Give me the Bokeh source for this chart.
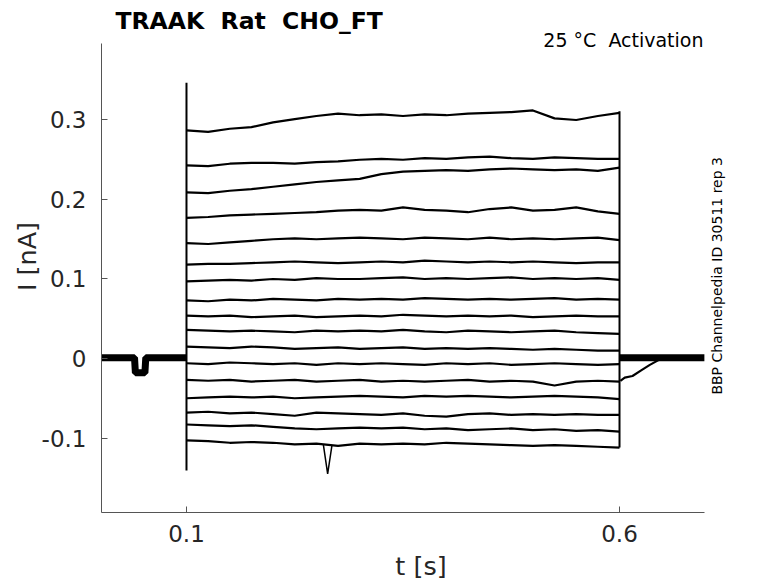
from bokeh.plotting import figure
from bokeh.models import Range1d, FixedTicker, CustomJSTickFormatter, Label, ColumnDataSource
from bokeh.embed import file_html
from bokeh.resources import INLINE

# ---- data ----
t_knots = [0.100, 0.125, 0.150, 0.175, 0.200, 0.225, 0.250, 0.275, 0.300, 0.325, 0.350,
           0.375, 0.400, 0.425, 0.450, 0.475, 0.500, 0.525, 0.550, 0.575, 0.600]

trace01 = [0.287, 0.285, 0.289, 0.291, 0.297, 0.301, 0.305, 0.308, 0.306, 0.307, 0.305, 0.307, 0.306, 0.308, 0.309, 0.310, 0.312, 0.302, 0.300, 0.305, 0.309]
trace02 = [0.243, 0.242, 0.245, 0.246, 0.246, 0.245, 0.247, 0.248, 0.250, 0.251, 0.250, 0.252, 0.251, 0.253, 0.254, 0.252, 0.251, 0.253, 0.252, 0.251, 0.251]
trace03 = [0.209, 0.208, 0.211, 0.213, 0.216, 0.219, 0.222, 0.224, 0.226, 0.232, 0.235, 0.236, 0.237, 0.236, 0.238, 0.239, 0.238, 0.237, 0.238, 0.236, 0.240]
trace04 = [0.177, 0.178, 0.180, 0.181, 0.182, 0.183, 0.184, 0.186, 0.187, 0.186, 0.190, 0.187, 0.186, 0.184, 0.188, 0.190, 0.186, 0.187, 0.190, 0.185, 0.182]
trace05 = [0.145, 0.144, 0.146, 0.148, 0.150, 0.151, 0.150, 0.151, 0.152, 0.151, 0.150, 0.152, 0.151, 0.150, 0.152, 0.150, 0.151, 0.150, 0.151, 0.152, 0.149]
trace06 = [0.118, 0.119, 0.119, 0.120, 0.121, 0.122, 0.121, 0.120, 0.121, 0.122, 0.121, 0.123, 0.122, 0.121, 0.122, 0.121, 0.122, 0.121, 0.120, 0.121, 0.121]
trace07 = [0.097, 0.098, 0.099, 0.098, 0.100, 0.099, 0.101, 0.100, 0.100, 0.101, 0.102, 0.100, 0.101, 0.100, 0.101, 0.102, 0.100, 0.101, 0.100, 0.101, 0.099]
trace08 = [0.073, 0.072, 0.074, 0.073, 0.075, 0.074, 0.073, 0.075, 0.074, 0.075, 0.074, 0.076, 0.075, 0.074, 0.075, 0.074, 0.075, 0.076, 0.074, 0.075, 0.074]
trace09 = [0.054, 0.053, 0.054, 0.052, 0.053, 0.054, 0.052, 0.053, 0.054, 0.053, 0.055, 0.054, 0.053, 0.054, 0.053, 0.054, 0.052, 0.053, 0.054, 0.053, 0.053]
trace10 = [0.036, 0.035, 0.034, 0.035, 0.034, 0.033, 0.035, 0.034, 0.035, 0.034, 0.036, 0.034, 0.033, 0.035, 0.034, 0.033, 0.034, 0.035, 0.033, 0.032, 0.031]
trace11 = [0.015, 0.014, 0.013, 0.015, 0.014, 0.012, 0.013, 0.014, 0.012, 0.013, 0.014, 0.012, 0.013, 0.012, 0.013, 0.012, 0.011, 0.012, 0.011, 0.010, 0.010]
trace12 = [-0.006, -0.007, -0.005, -0.006, -0.007, -0.006, -0.008, -0.006, -0.007, -0.006, -0.007, -0.008, -0.006, -0.007, -0.006, -0.008, -0.007, -0.006, -0.007, -0.008, -0.007]
trace13 = [-0.027, -0.028, -0.027, -0.029, -0.028, -0.027, -0.029, -0.028, -0.027, -0.029, -0.028, -0.029, -0.028, -0.027, -0.029, -0.028, -0.029, -0.034, -0.029, -0.028, -0.029]
trace14 = [-0.050, -0.049, -0.048, -0.049, -0.048, -0.050, -0.049, -0.048, -0.047, -0.048, -0.049, -0.047, -0.048, -0.047, -0.048, -0.049, -0.048, -0.047, -0.048, -0.049, -0.051]
trace15 = [-0.068, -0.067, -0.069, -0.068, -0.070, -0.072, -0.068, -0.069, -0.070, -0.071, -0.069, -0.072, -0.073, -0.070, -0.069, -0.071, -0.070, -0.071, -0.070, -0.071, -0.071]
trace16 = [-0.083, -0.084, -0.085, -0.084, -0.086, -0.088, -0.089, -0.088, -0.087, -0.088, -0.087, -0.089, -0.088, -0.090, -0.089, -0.088, -0.090, -0.089, -0.091, -0.090, -0.092]
trace17 = [-0.103, -0.104, -0.106, -0.105, -0.106, -0.108, -0.107, -0.110, -0.107, -0.108, -0.107, -0.108, -0.106, -0.107, -0.108, -0.109, -0.110, -0.109, -0.110, -0.111, -0.112]

# sharp spike on the lowest trace
spike_t = [0.258, 0.263, 0.268]
spike_i = [-0.108, -0.145, -0.109]

# baseline before the step (all sweeps overlaid)
pre_t = [0.002, 0.040, 0.041, 0.052, 0.053, 0.100]
pre_i = [0.001, 0.001, -0.018, -0.018, 0.001, 0.001]

# baseline after the step
post_t = [0.600, 0.698]
post_i = [0.001, 0.001]
tail_t = [0.601, 0.606, 0.615, 0.625, 0.635, 0.645]
tail_i = [-0.028, -0.024, -0.022, -0.015, -0.008, -0.002]

# capacitive transients
onset_t = [0.1]
onset_lo = [-0.141]
onset_hi = [0.347]
offset_t = [0.6]
offset_lo = [-0.112]
offset_hi = [0.311]

# axes extent and ticks
x_axis_span = (0.00187, 0.698)
y_axis_span = (-0.1937, 0.3962)
y_ticks = [-0.1, 0.0, 0.1, 0.2, 0.3]
x_ticks = [0.1, 0.6]

traces = [trace01, trace02, trace03, trace04, trace05, trace06, trace07, trace08, trace09,
          trace10, trace11, trace12, trace13, trace14, trace15, trace16, trace17]

NB = "\u00a0"

# ---- figure ----
W, H = 776, 583
p = figure(width=W, height=H, output_backend="svg", toolbar_location=None,
           x_range=Range1d(0.00187, 0.7397), y_range=Range1d(-0.1937, 0.4503),
           min_border_left=101, min_border_right=36, min_border_top=0, min_border_bottom=71)
p.outline_line_color = None
p.xgrid.visible = False
p.ygrid.visible = False
p.background_fill_color = "white"
p.border_fill_color = "white"

fmt = CustomJSTickFormatter(code="var s = tick.toFixed(1); return s == '0.0' || s == '-0.0' ? '0' : s;")
for ax, ticks, span in ((p.xaxis, x_ticks, x_axis_span), (p.yaxis, y_ticks, y_axis_span)):
    ax.ticker = FixedTicker(ticks=ticks)
    ax.formatter = fmt
    ax.bounds = span
    ax.axis_line_color = "#555555"
    ax.axis_line_width = 1
    ax.major_tick_line_color = "#555555"
    ax.major_tick_in = 6
    ax.major_tick_out = 0
    ax.minor_tick_line_color = None
    ax.major_label_text_font = "DejaVu Sans"
    ax.major_label_text_font_size = "23px"
    ax.major_label_text_color = "#262626"
    ax.axis_label_text_font = "DejaVu Sans"
    ax.axis_label_text_font_size = "25.5px"
    ax.axis_label_text_font_style = "normal"
    ax.axis_label_text_color = "#262626"

p.xaxis.axis_label = "t [s]"
p.yaxis.axis_label = "I [nA]"
p.xaxis.major_label_standoff = 12
p.xaxis.axis_label_standoff = 6
p.yaxis.major_label_standoff = 15
p.yaxis.axis_label_standoff = -3

lw = 2.2
# baseline bands
p.line(pre_t, pre_i, line_color="black", line_width=7)
p.line(post_t, post_i, line_color="black", line_width=7)
p.line(tail_t, tail_i, line_color="black", line_width=2.2)

# sweeps
src = ColumnDataSource(dict(xs=[t_knots] * len(traces), ys=traces))
p.multi_line(xs="xs", ys="ys", source=src, line_color="black", line_width=lw)
p.line(spike_t, spike_i, line_color="black", line_width=1.5)

# transients
p.segment(x0=onset_t, y0=onset_lo, x1=onset_t, y1=onset_hi, line_color="black", line_width=2)
p.segment(x0=offset_t, y0=offset_lo, x1=offset_t, y1=offset_hi, line_color="black", line_width=2)

# texts
p.add_layout(Label(x=0.018, y=0.425, text="TRAAK" + NB + " Rat" + NB + " CHO_FT", text_font="DejaVu Sans",
                   text_font_size="23.5px", text_font_style="bold", text_color="black",
                   text_align="left", text_baseline="alphabetic"))
p.add_layout(Label(x=0.697, y=0.400, text="25 °C" + NB + " Activation", text_font="DejaVu Sans",
                   text_font_size="19px", text_color="black",
                   text_align="right", text_baseline="alphabetic"))
p.add_layout(Label(x=0.712, y=0.104, text="BBP Channelpedia ID 30511 rep 3", text_font="DejaVu Sans",
                   text_font_size="14px", text_color="black", angle=1.5707963,
                   text_align="center", text_baseline="middle"))

open("out.html", "w").write(file_html(p, INLINE))
